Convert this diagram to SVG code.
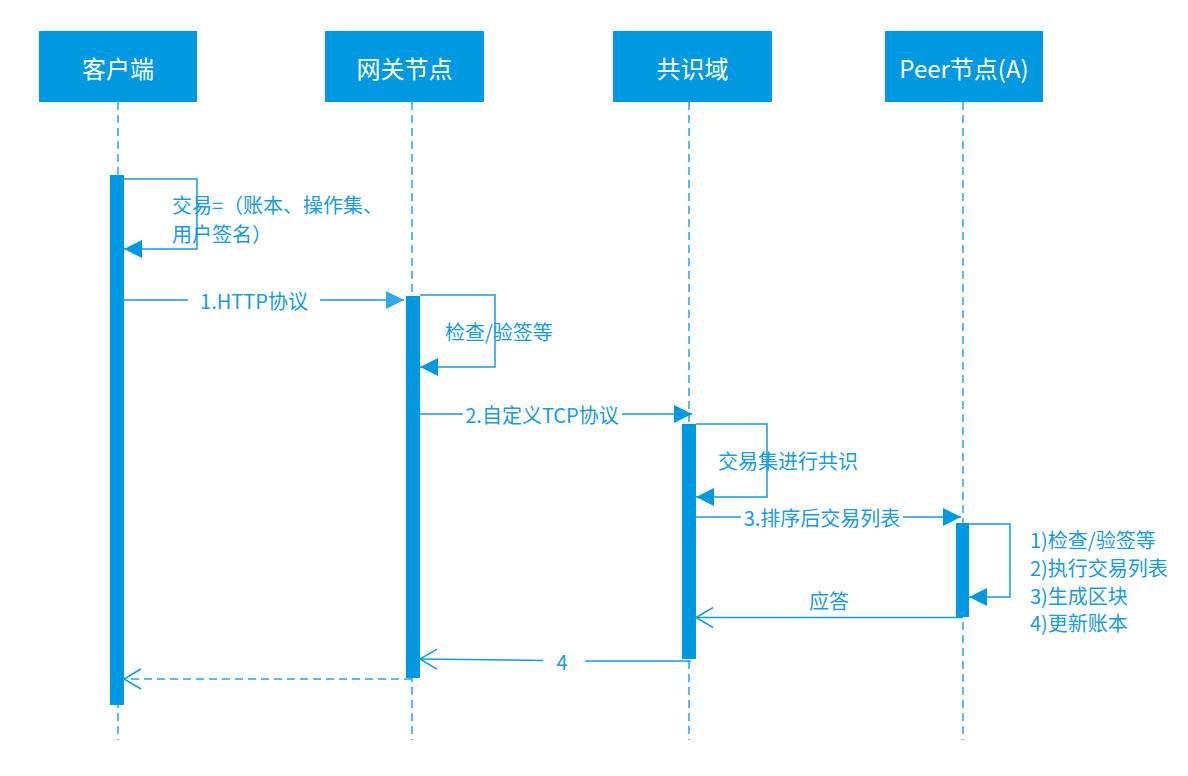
<svg xmlns="http://www.w3.org/2000/svg" width="1188" height="776" viewBox="0 0 1188 776">
<style>
.box{fill:#0099E1;}
.hdr{fill:#fff;font-family:"Noto Sans CJK SC","Noto Sans",sans-serif;font-size:24px;text-anchor:middle;dominant-baseline:central;}
.life{stroke:#2AA3E6;stroke-width:1.5;stroke-dasharray:8 5;fill:none;}
.bar{fill:#0099E1;}
.msg{stroke:#1799DF;stroke-width:1.5;fill:none;}
.ret{stroke:#2AA3E6;stroke-width:1.5;fill:none;stroke-dasharray:8 5;}
.lbl{fill:#1A9AE0;font-family:"Noto Sans CJK SC","Noto Sans",sans-serif;font-size:20px;dominant-baseline:central;}
.mid{text-anchor:middle;}
</style>
<defs>
<marker id="fill" markerUnits="userSpaceOnUse" markerWidth="18" markerHeight="18" viewBox="0 0 18 18" refX="18" refY="9" orient="auto">
<path d="M0,0 L18,9 L0,18 z" fill="#0099E1"/>
</marker>
<marker id="fill2" markerUnits="userSpaceOnUse" markerWidth="18" markerHeight="18" viewBox="0 0 18 18" refX="18" refY="9" orient="auto">
<path d="M0,0 L18,9 L0,18 z" fill="#35A8E6"/>
</marker>
<marker id="open" markerUnits="userSpaceOnUse" markerWidth="20" markerHeight="22" viewBox="0 0 20 22" refX="18" refY="11" orient="auto">
<path d="M1,1 L18,11 L1,21" fill="none" stroke="#1799DF" stroke-width="1.5"/>
</marker>
</defs>

<g id="lifelines">
<line class="life" x1="118" y1="102" x2="118" y2="740"/>
<line class="life" x1="412" y1="102" x2="412" y2="740"/>
<line class="life" x1="689" y1="102" x2="689" y2="740"/>
<line class="life" x1="963" y1="102" x2="963" y2="740"/>
</g>

<g id="node-client">
<rect class="box" x="39" y="31" width="158" height="71"/>
<text class="hdr" x="118" y="67">客户端</text>
</g>
<g id="node-gateway">
<rect class="box" x="325" y="31" width="159" height="71"/>
<text class="hdr" x="404.5" y="67">网关节点</text>
</g>
<g id="node-consensus">
<rect class="box" x="613" y="31" width="159" height="71"/>
<text class="hdr" x="692.5" y="67">共识域</text>
</g>
<g id="node-peer">
<rect class="box" x="885" y="31" width="158" height="71"/>
<text class="hdr" x="964" y="67">Peer节点(A)</text>
</g>

<g id="activations">
<rect class="bar" x="110" y="175" width="14" height="530"/>
<rect class="bar" x="406" y="296" width="14" height="382"/>
<rect class="bar" x="682" y="424" width="14" height="235"/>
<rect class="bar" x="956" y="523" width="13" height="94"/>
</g>

<g id="connectors">
<path class="msg" d="M124,179 H197 V249 H124" marker-end="url(#fill)"/>
<path class="msg" d="M420,295 H495 V367 H420" marker-end="url(#fill)"/>
<path class="msg" d="M696,424 H767 V497 H696" marker-end="url(#fill)"/>
<path class="msg" d="M969,524 H1010 V597 H969" marker-end="url(#fill)"/>

<line class="msg" x1="124" y1="300" x2="188" y2="300"/>
<line class="msg" x1="320" y1="300" x2="404" y2="300" marker-end="url(#fill2)"/>

<line class="msg" x1="420" y1="414" x2="463" y2="414"/>
<line class="msg" x1="622" y1="414" x2="692" y2="414" marker-end="url(#fill)"/>

<line class="msg" x1="696" y1="517" x2="741" y2="517"/>
<line class="msg" x1="903" y1="517" x2="961" y2="517" marker-end="url(#fill)"/>

<line class="msg" x1="963" y1="617.5" x2="696" y2="617.5" marker-end="url(#open)"/>

<line class="msg" x1="691" y1="661" x2="585" y2="661"/>
<line class="msg" x1="543" y1="660.5" x2="420" y2="659" marker-end="url(#open)"/>

<line class="ret" x1="412" y1="679" x2="124" y2="679" marker-end="url(#open)"/>
</g>

<g id="labels">
<text class="lbl" x="172" y="204">交易=（账本、操作集、</text>
<text class="lbl" x="172" y="233">用户签名）</text>
<text class="lbl mid" x="254" y="300">1.HTTP协议</text>
<text class="lbl" x="445" y="331">检查/验签等</text>
<text class="lbl mid" x="542" y="414">2.自定义TCP协议</text>
<text class="lbl" x="718" y="460">交易集进行共识</text>
<text class="lbl mid" x="822" y="517">3.排序后交易列表</text>
<text class="lbl" x="1030" y="539">1)检查/验签等</text>
<text class="lbl" x="1030" y="567">2)执行交易列表</text>
<text class="lbl" x="1030" y="595">3)生成区块</text>
<text class="lbl" x="1030" y="622">4)更新账本</text>
<text class="lbl mid" x="829" y="600">应答</text>
<text class="lbl mid" x="562" y="661">4</text>
</g>
</svg>
